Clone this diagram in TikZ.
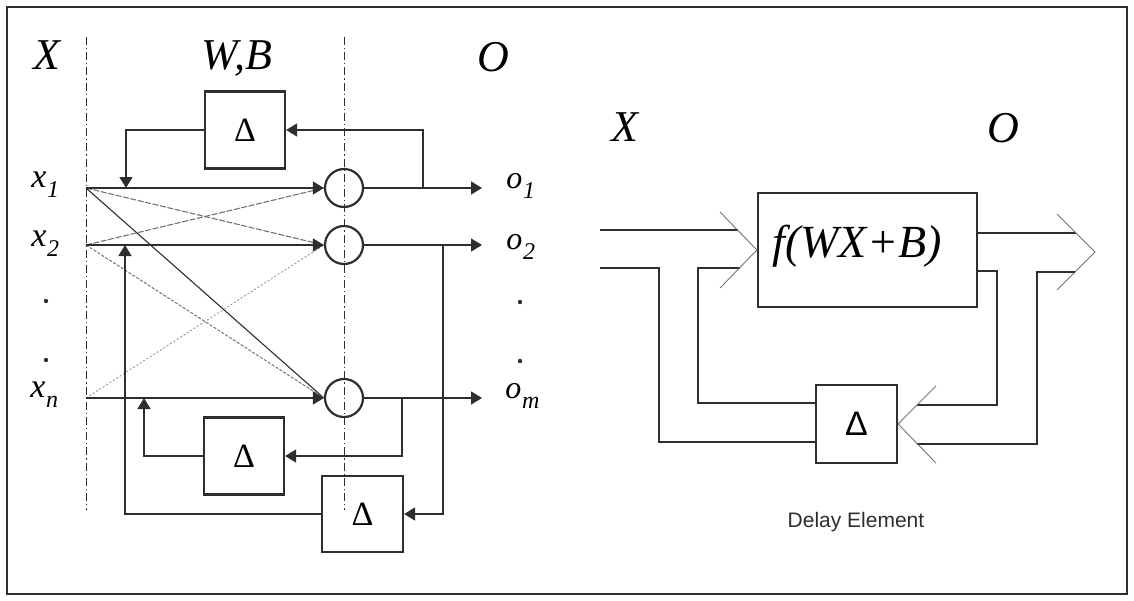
\documentclass[tikz,border=0pt]{standalone}
\usepackage{fontspec}
\setmainfont{Liberation Serif}
\newfontfamily\arialf{Liberation Sans}
\usetikzlibrary{arrows.meta,calc}
\definecolor{lc}{gray}{0.18}
\definecolor{gc}{gray}{0.45}
\definecolor{lgc}{gray}{0.62}
\newcommand\vsub[3]{{\fontsize{#3}{#3}\selectfont\textit{#1}\kern0.3pt\raisebox{-0.32em}{\fontsize{12}{12}\selectfont\textit{#2}}}}
\begin{document}
\begin{tikzpicture}[x=0.5pt,y=-0.5pt,
  ln/.style={draw=lc, line width=0.7pt},
  arr/.style={ln,-{Triangle[length=5.5pt,width=6.5pt]}},
  dashdot/.style={draw=lc, line width=0.5pt, dash pattern=on 4pt off 1.5pt on 0.6pt off 1.5pt},
  crossA/.style={draw=gc, line width=0.55pt, dash pattern=on 3pt off 0.8pt},
  crossB/.style={draw=lc, line width=0.55pt},
  crossC/.style={draw=gc, line width=0.5pt, dash pattern=on 1.5pt off 0.8pt},
  crossD/.style={draw=lgc, line width=0.5pt, dash pattern=on 1pt off 1pt},
  chev/.style={draw=gc, line width=0.45pt},
  dbox/.style={draw=lc, line width=1.1pt, minimum width=40pt, minimum height=38.5pt, inner sep=0pt, font=\fontsize{17}{17}\selectfont},
  neuron/.style={circle, draw=lc, line width=1.1pt, minimum size=19pt, inner sep=0pt},
  big/.style={font=\fontsize{22}{22}\selectfont\itshape, inner sep=0pt},
  dotm/.style={circle, fill=lc, minimum size=2.2pt, inner sep=0pt}
]
\useasboundingbox (0,0) rectangle (1134,600);
% frame
\draw[draw=lc, line width=1pt] (7,7) rectangle (1127,594);

% ===== left diagram =====
\node[big] (LX) at (47,55) {X};
\node[big] (LWB) at (237,58) {W,B};
\node[big] (LO) at (493,57) {O};

\coordinate (v1t) at (86,37); \coordinate (v1b) at (86,510);
\coordinate (v2t) at (344,37); \coordinate (v2b) at (344,510);
\draw[dashdot] (v1t) -- (v1b);
\draw[dashdot] (v2t) -- (v2b);

\coordinate (i1) at (86,188);
\coordinate (i2) at (86,245);
\coordinate (in) at (86,398);

\node[neuron] (c1) at (344,188) {};
\node[neuron] (c2) at (344,245) {};
\node[neuron] (cm) at (344,398) {};

\coordinate (e1) at (482,188);
\coordinate (e2) at (482,245);
\coordinate (em) at (482,398);

% cross connections
\draw[crossA] (i1) -- (c2.west);
\draw[crossB] (i1) -- (cm.west);
\draw[crossA] (i2) -- (c1.west);
\draw[crossC] (i2) -- (cm.west);
\draw[crossD] (in) -- (c2.west);

% straight connections
\draw[arr] (i1) -- (c1.west);
\draw[arr] (i2) -- (c2.west);
\draw[arr] (in) -- (cm.west);
\draw[arr] (c1.east) -- (e1);
\draw[arr] (c2.east) -- (e2);
\draw[arr] (cm.east) -- (em);

% delay boxes
\node[dbox] (dT) at (245,130) {Δ};
\node[dbox] (dA) at (244,456) {Δ};
\node[dbox, minimum width=40.5pt, minimum height=38pt] (dB) at (362.5,514) {\raisebox{-3pt}{Δ}};

% feedback loops
\coordinate (t1) at (423,188);
\coordinate (b1) at (126,188);
\draw[arr] (t1) |- (dT.east);
\draw[arr] (dT.west) -| (b1);

\coordinate (t2) at (443,245);
\coordinate (b2) at (125,245);
\draw[arr] (t2) |- (dB.east);
\draw[arr] (dB.west) -| (b2);

\coordinate (tm) at (402,398);
\coordinate (bm) at (144,398);
\draw[arr] (tm) |- (dA.east);
\draw[arr] (dA.west) -| (bm);

% labels
\node[anchor=base west, inner sep=0pt] (lx1) at (31,187) {\vsub{x}{1}{17}};
\node[anchor=base west, inner sep=0pt] (lx2) at (31,246) {\vsub{x}{2}{17}};
\node[anchor=base west, inner sep=0pt] (lxn) at (30,397) {\vsub{x}{n}{17}};
\node[anchor=base west, inner sep=0pt] (lo1) at (506,188) {\vsub{o}{1}{16}};
\node[anchor=base west, inner sep=0pt] (lo2) at (506,249) {\vsub{o}{2}{16}};
\node[anchor=base west, inner sep=0pt] (lom) at (505,398) {\vsub{o}{m}{16}};
\node[dotm] (dl1) at (46,301) {};
\node[dotm] (dl2) at (46,360) {};
\node[dotm] (dr1) at (520,302) {};
\node[dotm] (dr2) at (520,361) {};

% ===== right diagram =====
\node[big] (RX) at (625,127) {X};
\node[big] (RO) at (1003,128) {O};

\node[draw=lc, line width=1.1pt, minimum width=109.5pt, minimum height=57pt, inner sep=0pt] (F) at (867.5,250) {};
\node[font=\fontsize{23}{23}\selectfont\itshape, inner sep=0pt] (Ft) at (857,246) {f(WX+B)};
\node[dbox, font=\arialf\fontsize{17}{17}\selectfont, minimum width=40.5pt, minimum height=39pt] (D) at (856.5,424) {Δ};

% input wide arrow
\coordinate (inA) at (600,230);
\coordinate (inB) at (600,268);
\coordinate (jIu) at (738,230);
\coordinate (jIl) at (740,268);
\coordinate (aIu) at (720,212);
\coordinate (aIl) at (720,288);
\coordinate (cL) at (659,442);
\coordinate (cLi) at (698,403);
\draw[ln] (inA) -- (jIu);
\draw[ln] (inB) -| (cL) -- (cL -| D.west);
\draw[ln] (jIl) -| (cLi) -- (cLi -| D.west);
\draw[chev] (aIu) -- (F.west) -- (aIl);

% output wide arrow
\coordinate (fU) at (977,233);
\coordinate (fL) at (977,271);
\coordinate (jOu) at (1076,233);
\coordinate (jOl) at (1075,272);
\coordinate (aOu) at (1057,214);
\coordinate (aOt) at (1095,252);
\coordinate (aOl) at (1057,290);
\coordinate (cR) at (1037,444);
\coordinate (cRi) at (997,405);
\coordinate (jDu) at (916.5,405);
\coordinate (jDl) at (917,444);
\coordinate (aDu) at (936,386);
\coordinate (aDl) at (936,463);
\draw[ln] (fU) -- (jOu);
\draw[chev] (aOu) -- (aOt) -- (aOl);
\draw[ln] (jOl) -| (cR) -- (jDl);
\draw[ln] (fL) -| (cRi) -- (jDu);
\draw[chev] (aDu) -- (D.east) -- (aDl);

\node[font=\arialf\fontsize{10.5}{10.5}\selectfont, text=lc] (cap) at (856,522) {Delay Element};
\end{tikzpicture}
\end{document}
